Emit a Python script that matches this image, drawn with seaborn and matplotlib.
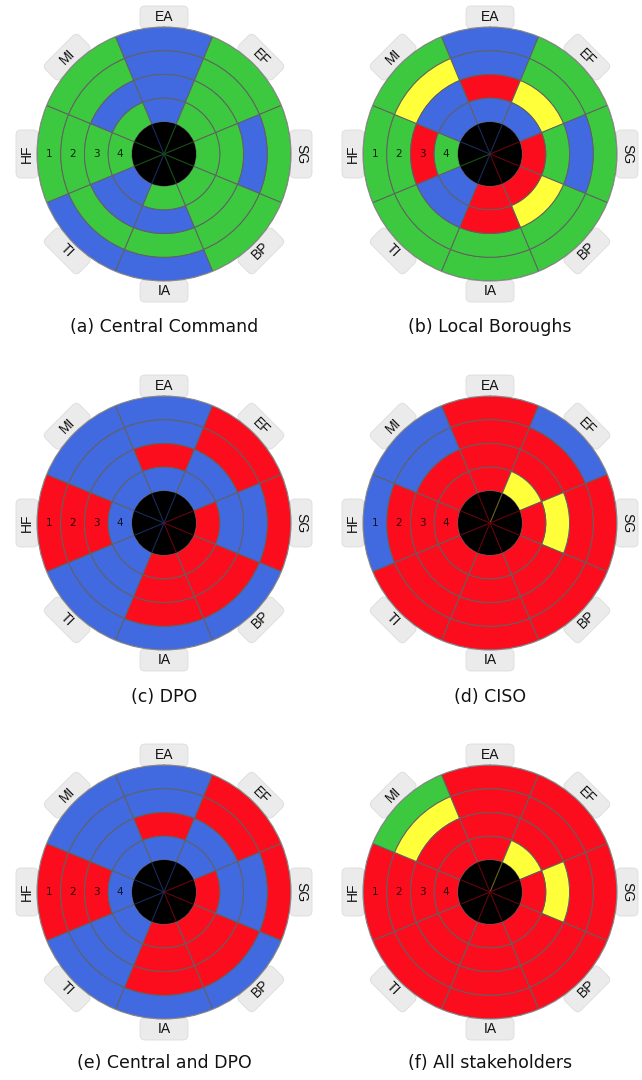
import numpy as np
import pandas as pd
import matplotlib
matplotlib.use("Agg")
import matplotlib.pyplot as plt
import seaborn as sns
from matplotlib.patches import FancyBboxPatch
from matplotlib.transforms import Affine2D
from matplotlib.colors import to_rgb

# Assessment dimensions, clockwise from the top
sectors = ["EA", "EF", "SG", "BP", "IA", "TI", "HF", "MI"]
ring_labels = ["1", "2", "3", "4"]

# Rating of each dimension, one letter per ring (ring 1 = outer ... ring 4 = inner)
# G = green, B = blue, R = red, Y = yellow
central_command = ["BBBB", "GGGG", "GBGG", "GGGG", "BGBG", "BGBB", "GGGG", "GGBG"]
local_boroughs = ["BBRB", "GGYB", "GBGR", "GGYR", "GGRR", "GGBB", "GGRG", "GYBB"]
dpo = ["BBRB", "RRBB", "RBBR", "BRRR", "BRRR", "BBBB", "RRRB", "BBBB"]
ciso = ["RRRR", "BRRY", "RRYR", "RRRR", "RRRR", "RRRR", "BRRR", "BBRR"]
central_and_dpo = ["BBRB", "RRBB", "RBBR", "BRRR", "BRRR", "BBBB", "RRRB", "BBBB"]
all_stakeholders = ["RRRR", "RRRY", "RRYR", "RRRR", "RRRR", "RRRR", "RRRR", "GYRR"]

captions = ["(a) Central Command", "(b) Local Boroughs", "(c) DPO",
            "(d) CISO", "(e) Central and DPO", "(f) All stakeholders"]
panels = [central_command, local_boroughs, dpo, ciso, central_and_dpo, all_stakeholders]

sns.set_style("white")
plt.rcParams["font.family"] = ["DejaVu Sans"]

level_colors = dict(zip("GBRY", sns.color_palette(["#3cc93f", "#4169e0", "#fc0d1e", "#ffff3a"])))
grid_color = "#606060"

W, H, DPI = 642, 1080, 100
R_PX = 127                     # wheel radius in pixels
CORE = 1.35                    # black hub radius, in ring widths
RMAX = CORE + len(ring_labels)
col_x = [164, 490]
row_y = [154, 523, 892]
caption_y = [327, 697, 1063]

fig = plt.figure(figsize=(W / DPI, H / DPI), dpi=DPI)
fig.patch.set_facecolor("white")

sector_theta = {s: np.deg2rad(45 * i) for i, s in enumerate(sectors)}
width = np.deg2rad(45)


def label_rotation(deg):
    deg = deg % 360
    if 90 < deg < 270:
        return 180 - deg
    return -deg


def draw_wheel(ax, levels):
    cells = pd.DataFrame(
        [(s, k + 1, code[k]) for s, code in zip(sectors, levels) for k in range(len(ring_labels))],
        columns=["sector", "ring", "level"],
    )
    ax.set_theta_zero_location("N")
    ax.set_theta_direction(-1)
    ax.set_ylim(0, RMAX)

    for row in cells.itertuples():
        ax.bar(sector_theta[row.sector], 1.0, width=width, align="center",
               bottom=CORE + len(ring_labels) - row.ring,
               color=level_colors[row.level], edgecolor=grid_color,
               linewidth=0.7, zorder=2)

    # black hub
    ax.bar(0, CORE, width=2 * np.pi, bottom=0, color="black", linewidth=0, zorder=3)
    for i in range(len(sectors)):
        th = np.deg2rad(22.5 + 45 * i)
        nxt = levels[(i + 1) % len(sectors)][-1]
        c = tuple(0.4 * v for v in to_rgb(level_colors[nxt]))
        ax.plot([th, th], [0, CORE], color=c, lw=0.8, zorder=4)

    # ring numbers in the HF sector
    for k, lab in enumerate(ring_labels):
        ax.text(sector_theta["HF"], CORE + len(ring_labels) - (k + 1) + 0.5, lab,
                ha="center", va="center", fontsize=7.5, color="black", alpha=0.8,
                zorder=5)

    ax.grid(False)
    ax.set_xticks([])
    ax.set_yticks([])
    ax.spines["polar"].set_color("#8a8a8a")
    ax.spines["polar"].set_linewidth(0.8)
    ax.patch.set_facecolor("white")

    # dimension tags around the rim
    r_tag = RMAX * (R_PX + 10) / R_PX
    for s in sectors:
        deg = np.rad2deg(sector_theta[s])
        rot = label_rotation(deg)
        cx, cy = ax.transData.transform((sector_theta[s], r_tag))
        box = FancyBboxPatch((-24, -11), 48, 22,
                             boxstyle="round,pad=0,rounding_size=5",
                             facecolor="#ebebeb", edgecolor="#dcdcdc", linewidth=0.6,
                             transform=Affine2D().rotate_deg(rot).translate(cx, cy),
                             zorder=-1)
        fig.add_artist(box)
        ax.text(sector_theta[s], r_tag, s, rotation=rot, rotation_mode="anchor",
                ha="center", va="center", fontsize=10, color="#111111",
                family=["Liberation Sans", "DejaVu Sans"], clip_on=False, zorder=6)


for idx, (levels, cap) in enumerate(zip(panels, captions)):
    cx = col_x[idx % 2]
    cy = row_y[idx // 2]
    rect = [(cx - R_PX) / W, 1 - (cy + R_PX) / H, 2 * R_PX / W, 2 * R_PX / H]
    ax = fig.add_axes(rect, projection="polar")
    draw_wheel(ax, levels)
    fig.text(cx / W, 1 - caption_y[idx // 2] / H, cap, ha="center", va="center",
             fontsize=12.5, color="#111111")

fig.savefig("out.png", dpi=DPI, facecolor="white")
